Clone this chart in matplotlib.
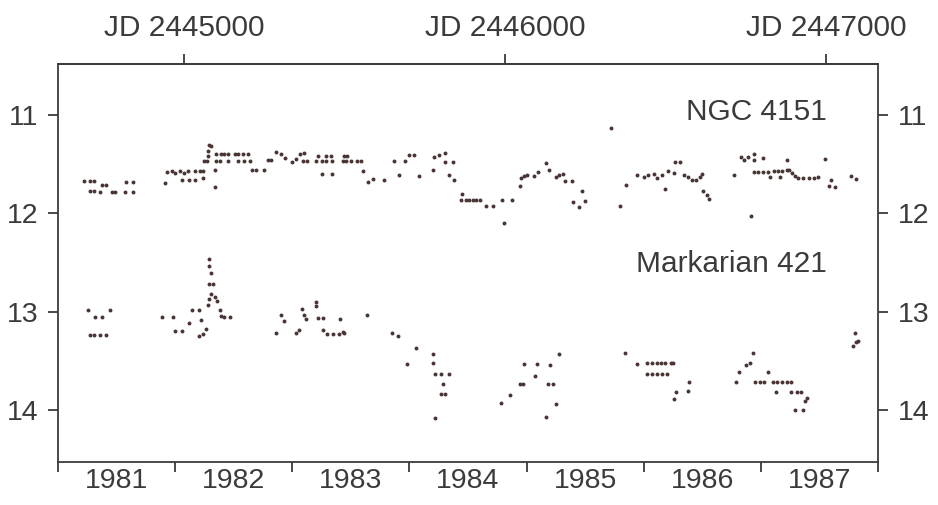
import numpy as np
import matplotlib
matplotlib.use("Agg")
import matplotlib.pyplot as plt

plt.rcParams['font.family'] = ['Liberation Sans', 'DejaVu Sans']

#NGC 4151 (annee decimale, magnitude)
ngc_annee = [1981.22, 1981.27, 1981.31, 1981.38, 1981.41, 1981.27, 1981.31, 1981.36, 1981.46, 1981.49,
             1981.57, 1981.64, 1981.58, 1981.64,
             1981.91, 1981.93, 1981.97, 1982.00, 1982.04, 1982.08, 1982.11, 1982.17, 1982.21, 1982.24,
             1982.06, 1982.12, 1982.17, 1982.24, 1982.34, 1982.34,
             1982.29, 1982.31, 1982.28, 1982.28, 1982.27,
             1982.35, 1982.39, 1982.42, 1982.45, 1982.51, 1982.54, 1982.58, 1982.62,
             1982.25, 1982.35, 1982.38, 1982.45, 1982.54, 1982.59, 1982.64,
             1982.66, 1982.69, 1982.76, 1982.79, 1982.82, 1982.86, 1982.90, 1982.94,
             1983.00, 1983.03, 1983.09, 1983.13, 1983.07, 1983.10,
             1983.20, 1983.25, 1983.29, 1983.34, 1983.22, 1983.29, 1983.33, 1983.25, 1983.34,
             1983.43, 1983.47, 1983.46, 1983.50, 1983.55, 1983.59, 1983.44,
             1983.60, 1983.65, 1983.69, 1983.78, 1983.87, 1983.91, 1983.96, 1984.00, 1984.04, 1984.08,
             1984.20, 1984.21, 1984.25, 1984.30, 1984.30, 1984.37, 1984.34, 1984.38,
             1984.45, 1984.44, 1984.48, 1984.51, 1984.54, 1984.57, 1984.60, 1984.65, 1984.71,
             1984.79, 1984.81, 1984.88, 1984.94, 1984.95, 1984.98, 1985.00, 1985.06, 1985.10,
             1985.17, 1985.19, 1985.25, 1985.28, 1985.31, 1985.33, 1985.39, 1985.40, 1985.45,
             1985.47, 1985.50,
             1985.72, 1985.80, 1985.85, 1985.94,
             1986.00, 1986.04, 1986.09, 1986.11, 1986.16, 1986.18, 1986.21, 1986.26, 1986.27, 1986.31,
             1986.34, 1986.38, 1986.41, 1986.45, 1986.48, 1986.50, 1986.51, 1986.54, 1986.56,
             1986.77, 1986.83, 1986.86, 1986.89, 1986.94, 1987.02, 1986.94, 1986.92,
             1986.94, 1986.98, 1987.02, 1987.06, 1987.11, 1987.15, 1987.18, 1987.22, 1987.08, 1987.16,
             1987.22, 1987.24, 1987.27, 1987.29, 1987.32, 1987.36, 1987.41, 1987.45, 1987.49,
             1987.55, 1987.58, 1987.63, 1987.60, 1987.77, 1987.81]
ngc_mag = [11.67, 11.67, 11.67, 11.71, 11.71, 11.77, 11.77, 11.78, 11.78, 11.78,
           11.78, 11.78, 11.68, 11.68,
           11.69, 11.575, 11.57, 11.59, 11.57, 11.59, 11.57, 11.57, 11.57, 11.57,
           11.655, 11.655, 11.655, 11.64, 11.73, 11.56,
           11.30, 11.31, 11.36, 11.42, 11.47,
           11.395, 11.395, 11.395, 11.40, 11.395, 11.40, 11.395, 11.40,
           11.47, 11.47, 11.47, 11.47, 11.47, 11.47, 11.47,
           11.56, 11.56, 11.56, 11.46, 11.46, 11.37, 11.40, 11.44,
           11.48, 11.45, 11.47, 11.47, 11.40, 11.39,
           11.47, 11.47, 11.47, 11.47, 11.42, 11.42, 11.42, 11.60, 11.60,
           11.47, 11.42, 11.47, 11.47, 11.47, 11.47, 11.42,
           11.57, 11.68, 11.65, 11.66, 11.47, 11.61, 11.47, 11.41, 11.41, 11.62,
           11.56, 11.43, 11.41, 11.38, 11.48, 11.48, 11.61, 11.66,
           11.80, 11.86, 11.86, 11.86, 11.86, 11.86, 11.86, 11.92, 11.92,
           11.86, 12.10, 11.86, 11.72, 11.64, 11.62, 11.61, 11.62, 11.58,
           11.49, 11.56, 11.63, 11.61, 11.60, 11.67, 11.67, 11.88, 11.93,
           11.77, 11.87,
           11.13, 11.92, 11.71, 11.61,
           11.63, 11.61, 11.60, 11.64, 11.61, 11.75, 11.57, 11.59, 11.48, 11.48,
           11.61, 11.63, 11.66, 11.66, 11.63, 11.60, 11.77, 11.81, 11.85,
           11.61, 11.43, 11.46, 11.43, 11.40, 11.44, 11.46, 12.03,
           11.58, 11.58, 11.58, 11.58, 11.57, 11.57, 11.57, 11.56, 11.63, 11.63,
           11.46, 11.56, 11.59, 11.62, 11.64, 11.64, 11.64, 11.64, 11.63,
           11.45, 11.72, 11.73, 11.66, 11.62, 11.65]

#Markarian 421
mrk_annee = [1981.26, 1981.32, 1981.38, 1981.44, 1981.27, 1981.31, 1981.36, 1981.41,
             1981.89, 1981.98, 1982.00, 1982.06, 1982.14, 1982.20, 1982.12, 1982.22,
             1982.20, 1982.24, 1982.26,
             1982.29, 1982.29, 1982.31, 1982.29, 1982.32, 1982.31, 1982.29, 1982.34, 1982.36, 1982.28,
             1982.38, 1982.39, 1982.42, 1982.47,
             1982.90, 1982.93, 1982.86, 1983.03, 1983.06, 1983.08, 1983.10, 1983.12,
             1983.20, 1983.20, 1983.22, 1983.26,
             1983.26, 1983.30, 1983.35, 1983.40, 1983.44, 1983.41, 1983.43,
             1983.64, 1983.85, 1983.90, 1984.06, 1983.98, 1984.20, 1984.20,
             1984.22, 1984.27, 1984.34, 1984.29, 1984.27, 1984.30, 1984.22,
             1984.78, 1984.86, 1984.94, 1984.97, 1984.98, 1985.07, 1985.09, 1985.20,
             1985.18, 1985.23, 1985.17, 1985.25, 1985.28,
             1985.84, 1985.94,
             1986.03, 1986.07, 1986.11, 1986.15, 1986.18, 1986.23, 1986.25,
             1986.03, 1986.07, 1986.11, 1986.16, 1986.20,
             1986.26, 1986.28, 1986.39, 1986.38,
             1986.79, 1986.81, 1986.87, 1986.91, 1986.93,
             1986.95, 1986.99, 1987.03, 1987.06,
             1987.10, 1987.14, 1987.18, 1987.22, 1987.26, 1987.13,
             1987.26, 1987.31, 1987.34, 1987.39, 1987.38, 1987.29, 1987.36,
             1987.80, 1987.81, 1987.83, 1987.79]
mrk_mag = [12.98, 13.05, 13.05, 12.98, 13.24, 13.24, 13.24, 13.24,
           13.05, 13.05, 13.20, 13.20, 12.98, 12.98, 13.12, 13.08,
           13.25, 13.23, 13.18,
           12.46, 12.53, 12.61, 12.72, 12.72, 12.82, 12.87, 12.85, 12.89, 12.93,
           12.98, 13.04, 13.05, 13.05,
           13.03, 13.09, 13.22, 13.22, 13.19, 12.97, 13.03, 13.07,
           12.90, 12.94, 13.06, 13.06,
           13.19, 13.23, 13.23, 13.23, 13.22, 13.07, 13.21,
           13.03, 13.22, 13.25, 13.37, 13.53, 13.43, 13.52,
           13.63, 13.63, 13.63, 13.74, 13.84, 13.84, 14.08,
           13.93, 13.85, 13.74, 13.74, 13.53, 13.65, 13.53, 13.54,
           13.74, 13.74, 14.07, 13.94, 13.43,
           13.42, 13.53,
           13.52, 13.52, 13.52, 13.52, 13.52, 13.52, 13.52,
           13.63, 13.63, 13.63, 13.63, 13.63,
           13.89, 13.82, 13.72, 13.81,
           13.72, 13.61, 13.54, 13.52, 13.42,
           13.72, 13.72, 13.72, 13.61,
           13.72, 13.72, 13.72, 13.72, 13.72, 13.82,
           13.82, 13.82, 13.82, 13.88, 13.91, 14.00, 14.00,
           13.22, 13.31, 13.30, 13.35]

annees = [1981, 1982, 1983, 1984, 1985, 1986, 1987]
mag_ticks = [11, 12, 13, 14]
jd_ticks = [2445000, 2446000, 2447000]

#Conversion annee <-> JD
def an2jd(a):
    return 2444605.5 + (np.asarray(a) - 1981.0) * 365.25

def jd2an(j):
    return 1981.0 + (np.asarray(j) - 2444605.5) / 365.25

gris = '#3b3b3b'
point = '#4a3535'

fig = plt.figure(figsize=(9.38, 5.05), dpi=100)
ax = fig.add_axes([0.0618, 0.0851, 0.8742, 0.788])

ax.scatter(ngc_annee, ngc_mag, s=8, color=point, linewidths=0)
ax.scatter(mrk_annee, mrk_mag, s=8, color=point, linewidths=0)

ax.set_xlim(1981.0, 1988.0)
ax.set_ylim(14.53, 10.48)

for sp in ax.spines.values():
    sp.set_color(gris)
    sp.set_linewidth(1.3)

#axe du bas: traits aux debuts d'annee, etiquettes au milieu
ax.set_xticks(annees + [1988])
ax.set_xticklabels([])
ax.set_xticks([a + 0.5 for a in annees], minor=True)
ax.set_xticklabels([str(a) for a in annees], minor=True)
ax.tick_params(axis='x', which='major', direction='out', length=7, width=1.3, color=gris)
ax.tick_params(axis='x', which='minor', length=0, pad=4, labelsize=20.5, labelcolor=gris)

ax.set_yticks(mag_ticks)
ax.tick_params(axis='y', which='both', direction='out', length=7, width=1.3, color=gris,
               left=True, right=True, labelleft=True, labelright=True,
               labelsize=20.5, labelcolor=gris, pad=7)

#axe du haut en JD
top = ax.secondary_xaxis('top', functions=(an2jd, jd2an))
top.set_xticks(jd_ticks)
top.set_xticklabels(['JD %d' % j for j in jd_ticks])
top.tick_params(direction='out', length=7, width=1.3, color=gris, labelsize=21.5,
                labelcolor=gris, pad=9)
top.spines['top'].set_color(gris)
top.spines['top'].set_linewidth(1.3)

ax.text(0.938, 0.879, 'NGC 4151', transform=ax.transAxes, ha='right', va='center',
        fontsize=21.5, color=gris)
ax.text(0.938, 0.497, 'Markarian 421', transform=ax.transAxes, ha='right', va='center',
        fontsize=21.5, color=gris)

fig.savefig('out.png', dpi=100)
